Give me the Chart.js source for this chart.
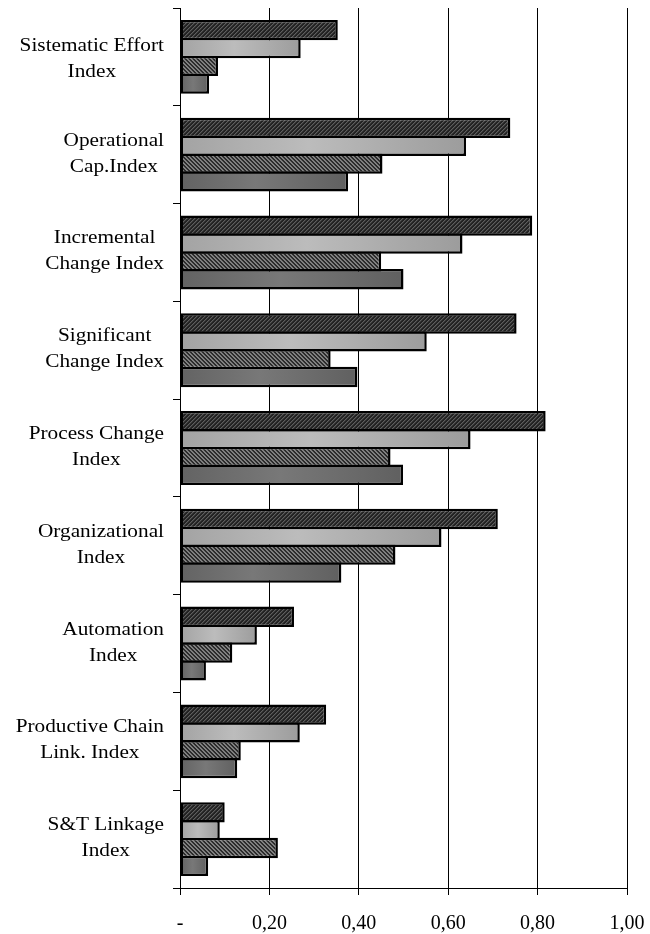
<!DOCTYPE html>
<html>
<head>
<meta charset="utf-8">
<script src="https://cdn.jsdelivr.net/npm/chart.js@4/dist/chart.umd.min.js"></script>
<style>
  html, body { margin: 0; padding: 0; background: #fff; }
</style>
</head>
<body>
<canvas id="chart" width="650" height="934"></canvas>
<script>
var categories = [
  ['Sistematic Effort', 'Index'],
  ['Operational', 'Cap.Index'],
  ['Incremental', 'Change Index'],
  ['Significant', 'Change Index'],
  ['Process Change', 'Index'],
  ['Organizational', 'Index'],
  ['Automation', 'Index'],
  ['Productive Chain', 'Link. Index'],
  ['S&T Linkage', 'Index']
];
var series1 = [0.353, 0.739, 0.788, 0.753, 0.818, 0.711, 0.255, 0.327, 0.100];
var series2 = [0.270, 0.640, 0.632, 0.552, 0.650, 0.585, 0.172, 0.268, 0.089];
var series3 = [0.085, 0.453, 0.450, 0.337, 0.471, 0.482, 0.117, 0.136, 0.219];
var series4 = [0.065, 0.376, 0.500, 0.397, 0.499, 0.361, 0.058, 0.128, 0.063];
var xTicks = ['-', '0,20', '0,40', '0,60', '0,80', '1,00'];

var SERIF = '"Liberation Serif", "Times New Roman", serif';
var LABEL_SX = 1.12; // reference text is a bit wider than tall

// 4x4 diagonal hatch tiles
function hatch(colors, slash) {
  var c = document.createElement('canvas');
  c.width = 4; c.height = 4;
  var g = c.getContext('2d');
  for (var y = 0; y < 4; y++) {
    for (var x = 0; x < 4; x++) {
      var k = slash ? (x + y) % 4 : ((x - y) % 4 + 4) % 4;
      g.fillStyle = colors[k];
      g.fillRect(x, y, 1, 1);
    }
  }
  return g.createPattern(c, 'repeat');
}

// horizontal shading along each bar, lighter a bit left of middle
function shade(a, b, c) {
  return function (ctx) {
    var chart = ctx.chart;
    if (!chart.chartArea || ctx.type !== 'data') return b;
    var xs = chart.scales.x;
    var x0 = xs.getPixelForValue(0), x1 = xs.getPixelForValue(ctx.raw);
    if (x1 - x0 < 2) return b;
    var gr = chart.ctx.createLinearGradient(x0, 0, x1, 0);
    gr.addColorStop(0, a);
    gr.addColorStop(0.45, b);
    gr.addColorStop(1, c);
    return gr;
  };
}

var catLabels = {
  id: 'catLabels',
  afterDraw: function (chart) {
    var ctx = chart.ctx, ys = chart.scales.y;
    var right = chart.chartArea.left - 16;
    ctx.save();
    ctx.font = '19px ' + SERIF;
    ctx.fillStyle = '#000';
    ctx.textAlign = 'center';
    ctx.textBaseline = 'middle';
    chart.data.labels.forEach(function (lines, i) {
      var w = 0;
      lines.forEach(function (l) { w = Math.max(w, ctx.measureText(l).width); });
      var cx = right - w * LABEL_SX / 2;
      var cy = ys.getPixelForValue(i) - 1 + (i === 0 ? 3 : 0);
      lines.forEach(function (line, j) {
        var ly = cy + (j - (lines.length - 1) / 2) * 26;
        ctx.save();
        ctx.translate(cx, ly);
        ctx.scale(LABEL_SX, 1);
        ctx.fillText(line, 0, 0);
        ctx.restore();
      });
    });
    ctx.restore();
  }
};

new Chart(document.getElementById('chart'), {
  type: 'bar',
  data: {
    labels: categories,
    datasets: [
      { label: 'Series 1', data: series1, backgroundColor: hatch(['#5e5e5e', '#3a3a3a', '#222', '#222'], true) },
      { label: 'Series 2', data: series2, backgroundColor: shade('#a3a3a3', '#bcbcbc', '#9c9c9c') },
      { label: 'Series 3', data: series3, backgroundColor: hatch(['#848484', '#7a7a7a', '#2c2c2c', '#2c2c2c'], false) },
      { label: 'Series 4', data: series4, backgroundColor: shade('#636363', '#787878', '#606060') }
    ]
  },
  options: {
    indexAxis: 'y',
    responsive: false,
    animation: false,
    layout: { padding: { top: 8, right: 23, left: 0, bottom: 0 } },
    datasets: {
      bar: {
        categoryPercentage: 0.73,
        barPercentage: 1.14,
        borderColor: '#000',
        borderWidth: 2.5,
        borderSkipped: false
      }
    },
    plugins: { legend: { display: false }, tooltip: { enabled: false } },
    scales: {
      x: {
        min: 0,
        max: 1,
        ticks: {
          stepSize: 0.2,
          maxRotation: 0,
          padding: 17,
          color: '#000',
          font: { family: SERIF, size: 20 },
          callback: function (v, i) { return xTicks[i]; }
        },
        grid: { color: '#000', lineWidth: 1, tickLength: 7 },
        border: { color: '#000', width: 1 },
        afterFit: function (s) {
          s.height = 46;
          s.paddingLeft = 0;
          s.paddingRight = 0;
        }
      },
      y: {
        ticks: { display: false },
        grid: { drawOnChartArea: false, tickLength: 7, color: '#000' },
        border: { color: '#000', width: 1 },
        afterFit: function (s) { s.width = 180; }
      }
    }
  },
  plugins: [catLabels]
});
</script>
</body>
</html>
